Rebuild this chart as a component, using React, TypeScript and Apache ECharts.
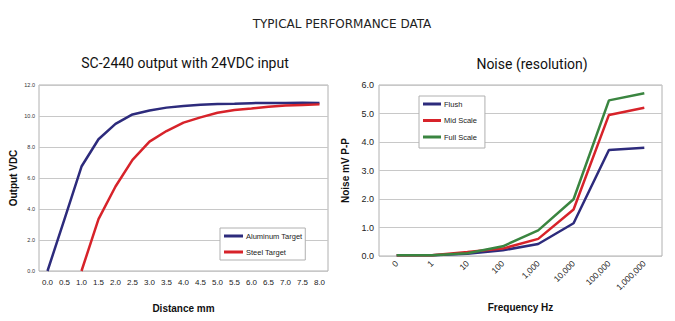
import React, { useEffect, useRef } from "react";
import * as echarts from "echarts";

const distanceCats = ["0.0","0.5","1.0","1.5","2.0","2.5","3.0","3.5","4.0","4.5","5.0","5.5","6.0","6.5","7.0","7.5","8.0"];
const aluminum = [0, 3.35, 6.74, 8.5, 9.49, 10.1, 10.36, 10.54, 10.64, 10.73, 10.77, 10.79, 10.83, 10.84, 10.84, 10.85, 10.84];
const steel = [null, null, 0, 3.35, 5.45, 7.17, 8.35, 9.03, 9.57, 9.91, 10.21, 10.39, 10.49, 10.6, 10.67, 10.71, 10.75];

const freqCats = ["0","1","10","100","1,000","10,000","100,000","1,000,000"];
const flush = [0.03, 0.03, 0.08, 0.2, 0.42, 1.15, 3.72, 3.8];
const midScale = [0.03, 0.03, 0.14, 0.26, 0.6, 1.63, 4.95, 5.2];
const fullScale = [0.03, 0.03, 0.1, 0.34, 0.9, 1.99, 5.46, 5.71];

const NAVY = "#2d2b7c";
const RED = "#d7232a";
const GREEN = "#3a8540";

export default function App() {
  const ref = useRef<HTMLDivElement>(null);
  useEffect(() => {
    document.body.style.margin = "0";
    const chart = echarts.init(ref.current!, null, { renderer: "svg" });
    const axisFont = "Liberation Sans, Arial, sans-serif";
    chart.setOption({
      animation: false,
      backgroundColor: "#ffffff",
      title: [
        { text: "TYPICAL PERFORMANCE DATA", left: 337, top: 13, textAlign: "center",
          textStyle: { fontFamily: "DejaVu Sans", fontSize: 12, fontWeight: "normal", color: "#222" } },
        { text: "SC-2440 output with 24VDC input", left: 180, top: 51, textAlign: "center",
          textStyle: { fontFamily: "Roboto", fontSize: 14, fontWeight: "normal", color: "#111" } },
        { text: "Noise (resolution)", left: 527, top: 52, textAlign: "center",
          textStyle: { fontFamily: "Roboto", fontSize: 14, fontWeight: "normal", color: "#111" } },
      ],
      grid: [
        { left: 39, top: 85, width: 289, height: 186, show: true, borderColor: "#b0b0b0", borderWidth: 1 },
        { left: 379, top: 85, width: 283, height: 171, show: true, borderColor: "#b0b0b0", borderWidth: 1 },
      ],
      xAxis: [
        { type: "category", gridIndex: 0, data: distanceCats, boundaryGap: true,
          axisLine: { show: false }, axisTick: { show: false },
          axisLabel: { fontSize: 8, color: "#222", fontFamily: axisFont, margin: 7, interval: 0 },
          name: "Distance mm", nameLocation: "middle", nameGap: 32,
          nameTextStyle: { fontSize: 10, fontWeight: "bold", color: "#111", fontFamily: axisFont } },
        { type: "category", gridIndex: 1, data: freqCats, boundaryGap: true,
          axisLine: { show: false }, axisTick: { show: false },
          axisLabel: { fontSize: 8.5, color: "#222", fontFamily: axisFont, rotate: 45, margin: 6, interval: 0 },
          name: "Frequency Hz", nameLocation: "middle", nameGap: 46,
          nameTextStyle: { fontSize: 10, fontWeight: "bold", color: "#111", fontFamily: axisFont } },
      ],
      yAxis: [
        { type: "value", gridIndex: 0, min: 0, max: 12, interval: 2,
          axisLine: { show: false }, axisTick: { show: false },
          axisLabel: { fontSize: 5.5, color: "#333", fontFamily: axisFont, margin: 4, formatter: (v: number) => v.toFixed(1) },
          splitLine: { lineStyle: { color: "#c8c8c8", width: 1 } },
          name: "Output VDC", nameLocation: "middle", nameGap: 21, nameRotate: 90,
          nameTextStyle: { fontSize: 10, fontWeight: "bold", color: "#111", fontFamily: axisFont } },
        { type: "value", gridIndex: 1, min: 0, max: 6, interval: 1,
          axisLine: { show: false }, axisTick: { show: false },
          axisLabel: { fontSize: 9, color: "#222", fontFamily: axisFont, margin: 5, formatter: (v: number) => v.toFixed(1) },
          splitLine: { lineStyle: { color: "#c8c8c8", width: 1 } },
          name: "Noise mV P-P", nameLocation: "middle", nameGap: 29, nameRotate: 90,
          nameTextStyle: { fontSize: 10, fontWeight: "bold", color: "#111", fontFamily: axisFont } },
      ],
      legend: [
        { data: ["Aluminum Target", "Steel Target"], orient: "vertical", left: 220, top: 228,
          itemWidth: 19, itemHeight: 3, itemGap: 8, icon: "rect",
          padding: [4, 3, 4, 4], borderColor: "#b0b0b0", borderWidth: 1, backgroundColor: "#fff",
          textStyle: { fontSize: 7.5, color: "#222", fontFamily: axisFont, padding: [0, 0, 0, -2] } },
        { data: ["Flush", "Mid Scale", "Full Scale"], orient: "vertical", left: 419, top: 96,
          itemWidth: 18, itemHeight: 3, itemGap: 8.5, icon: "rect",
          padding: [4, 8, 7, 4], borderColor: "#b0b0b0", borderWidth: 1, backgroundColor: "#fff",
          textStyle: { fontSize: 7.5, color: "#222", fontFamily: axisFont, padding: [0, 0, 0, -2] } },
      ],
      series: [
        { name: "Aluminum Target", type: "line", xAxisIndex: 0, yAxisIndex: 0, data: aluminum,
          symbol: "none", lineStyle: { color: NAVY, width: 2.5 }, itemStyle: { color: NAVY } },
        { name: "Steel Target", type: "line", xAxisIndex: 0, yAxisIndex: 0, data: steel,
          symbol: "none", lineStyle: { color: RED, width: 2.5 }, itemStyle: { color: RED } },
        { name: "Flush", type: "line", xAxisIndex: 1, yAxisIndex: 1, data: flush,
          symbol: "none", lineStyle: { color: NAVY, width: 2.5 }, itemStyle: { color: NAVY } },
        { name: "Mid Scale", type: "line", xAxisIndex: 1, yAxisIndex: 1, data: midScale,
          symbol: "none", lineStyle: { color: RED, width: 2.5 }, itemStyle: { color: RED } },
        { name: "Full Scale", type: "line", xAxisIndex: 1, yAxisIndex: 1, data: fullScale,
          symbol: "none", lineStyle: { color: GREEN, width: 2.5 }, itemStyle: { color: GREEN } },
      ],
    });
    return () => chart.dispose();
  }, []);
  return <div ref={ref} style={{ width: 675, height: 321 }} />;
}
